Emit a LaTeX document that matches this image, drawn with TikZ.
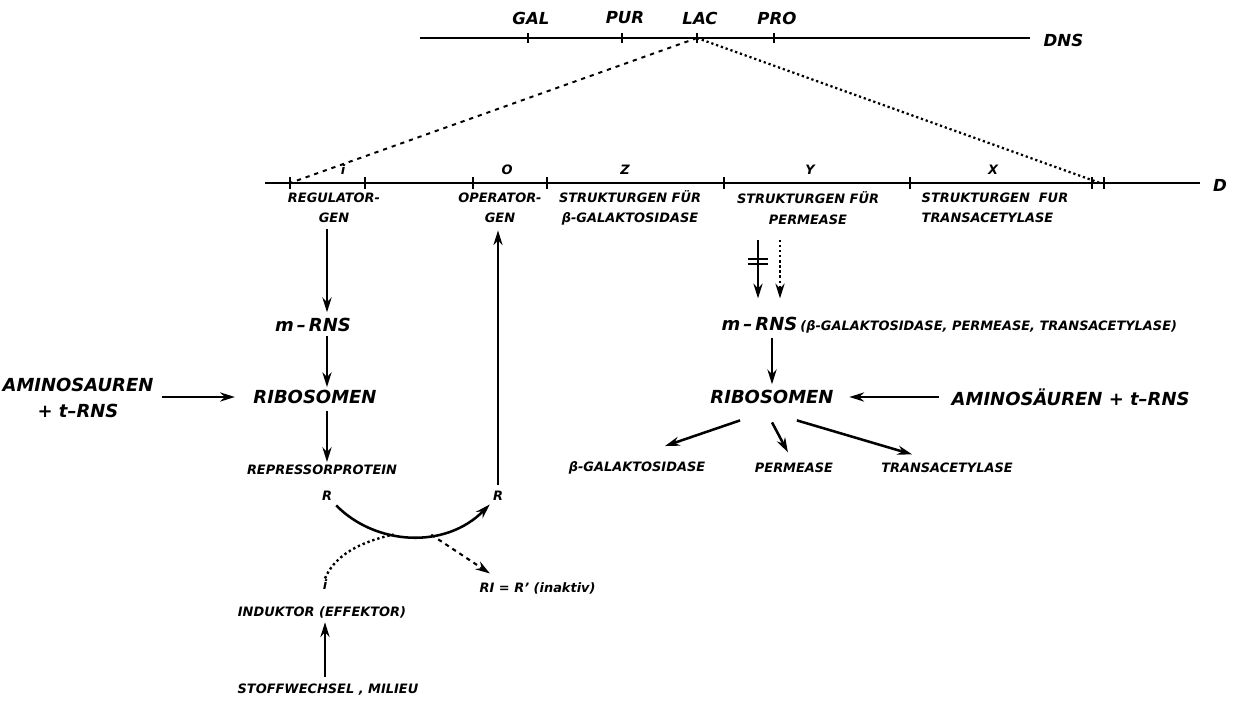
\documentclass[tikz,border=0pt]{standalone}
\usepackage{fontspec}
\setmainfont{DejaVu Sans}
\usepackage{tikz}
\usetikzlibrary{positioning,arrows.meta}
\newcommand{\lbig}{\fontsize{12.8}{15}\selectfont\bfseries\itshape}
\newcommand{\lsmall}{\fontsize{9.2}{14.5}\selectfont\bfseries\itshape}

\begin{document}
\begin{tikzpicture}[x=0.025cm, y=-0.025cm,
  every node/.style={inner sep=1pt},
  big/.style={font=\lbig},
  small/.style={font=\lsmall, align=center},
  gene/.style={font=\fontsize{11.8}{13}\selectfont\bfseries\itshape},
  dna/.style={line width=2.1pt},
  tick/.style={line width=1.4pt},
  arr/.style={-{Stealth[length=10.5pt,width=6.5pt]}, line width=1.8pt},
]
\useasboundingbox (0,0) rectangle (1241,702);
% chromosome (DNS)
\draw[dna] (420,38) -- (1030,38);
\node[gene, anchor=west] (dns) at (1042,40) {DNS};
\foreach \x/\n/\t in {528/gal/GAL, 622/pur/PUR, 697/lac/LAC, 774/pro/PRO} {
  \draw[tick] (\x,33) -- (\x,43);
  \coordinate (\n) at (\x,38);
  \node[gene] (\n lab) at (\x+3,18) {\t};
}
% lac operon
\draw[dna] (265,183) -- (1200,183);
\node[gene] (d) at (1220,185) {D};
\foreach \x in {290,365,473,547,724,910,1092,1104}
  \draw[tick] (\x,177) -- (\x,189);
\coordinate (opL) at (290,183);
\coordinate (opR) at (1100,183);
\draw[line width=1.4pt, dash pattern=on 3pt off 3.5pt] (lac) -- (opL);
\draw[line width=1.6pt, dotted] (lac) -- (opR);
\foreach \x/\n/\t in {343/li/i, 507/lo/O, 625/lz/Z, 810/ly/Y, 993/lx/X}
  \node[small] (\n) at (\x,170) {\t};
\node[small] (reg) at (334,208) {REGULATOR-\\GEN};
\node[small] (opg) at (500,208) {OPERATOR-\\GEN};
\node[small] (zg) at (630,208) {STRUKTURGEN FÜR\\β-GALAKTOSIDASE};
\node[small] (yg) at (808,208) {STRUKTURGEN FÜR\\PERMEASE};
\node[small, align=left, anchor=west] (xg) at (920,208) {STRUKTURGEN~~FUR\\TRANSACETYLASE};
% repressor side
\coordinate (colL) at (327,0);
\node[big] (mrnsL) at (313,325) {m\,–\,RNS};
\node[big] (ribL) at (315,397) {RIBOSOMEN};
\node[small] (rep) at (322,470) {REPRESSORPROTEIN};
\node[small] (rL) at (327,496) {R};
\node[small] (rR) at (498,496) {R};
\node[big, align=center] (amL) at (78,398) {AMINOSAUREN\\[4pt]+ t–RNS};
\draw[arr, shorten <=3pt, shorten >=3pt] (reg.south -| colL) -- (mrnsL.north -| colL);
\draw[arr, shorten <=2pt, shorten >=1pt] (mrnsL.south -| colL) -- (ribL.north -| colL);
\draw[arr, shorten <=4pt, shorten >=1pt] (ribL.south -| colL) -- (rep.north -| colL);
\draw[arr, shorten <=5pt, shorten >=12pt] (amL.east |- ribL.west) -- (ribL.west);
\draw[arr, shorten <=3pt, shorten >=4pt] (rR.north) -- (opg.south -| rR.north);
\draw[arr, shorten <=3pt, shorten >=2pt] (rL) .. controls (375,545) and (445,550) .. (rR)
  coordinate[pos=0.4] (mL) coordinate[pos=0.62] (mR);
\node[small] (iL) at (325,585) {i};
\node[small, anchor=west] (inak) at (478,588) {RI = R' (inaktiv)};
\node[small] (ind) at (322,612) {INDUKTOR (EFFEKTOR)};
\node[small] (stoff) at (328,690) {STOFFWECHSEL , MILIEU};
\draw[line width=1.7pt, dotted] (iL.north) .. controls (335,555) and (360,542) .. (mL);
\draw[arr, line width=1.5pt, dash pattern=on 3pt off 3pt] (mR) -- ([shift={(8.5pt,5pt)}]inak.north west);
\draw[arr, shorten <=4pt, shorten >=2pt] (stoff.north -| iL) -- (ind.south -| iL);
% structural genes side
\coordinate (colY) at (758,0);
\coordinate (colYd) at (780,0);
\coordinate (colR) at (772,0);
\node[anchor=west] (mrnsR) at (720,325) {\lbig m\,–\,RNS\,\lsmall(β-GALAKTOSIDASE, PERMEASE, TRANSACETYLASE)};
\draw[arr, shorten <=10pt, shorten >=12pt] (yg.south -| colY) -- (mrnsR.north -| colY);
\draw[arr, line width=1.6pt, dotted, shorten <=10pt, shorten >=12pt] (yg.south -| colYd) -- (mrnsR.north -| colYd);
\draw[line width=1.4pt] (748,259) -- (768,259) (748,264) -- (768,264);
\node[big] (ribR) at (772,397) {RIBOSOMEN};
\node[big, anchor=west] (amR) at (950,397) {AMINOSÄUREN + t–RNS};
\draw[arr, shorten <=2pt, shorten >=3pt] (mrnsR.south -| colR) -- (ribR.north -| colR);
\draw[arr, shorten <=8pt, shorten >=10pt] (amR.west) -- (ribR.east);
\node[small] (galp) at (637,468) {β-GALAKTOSIDASE};
\node[small] (perm) at (794,468) {PERMEASE};
\node[small] (trans) at (947,468) {TRANSACETYLASE};
\draw[arr] ([shift={(-22.7pt,-10.6pt)}]ribR.south) -- ([shift={(19.9pt,9.9pt)}]galp.north);
\draw[arr] ([shift={(0pt,-12pt)}]ribR.south) -- ([shift={(-4.3pt,6.4pt)}]perm.north);
\draw[arr] ([shift={(17.7pt,-10.6pt)}]ribR.south) -- ([shift={(-24.8pt,5pt)}]trans.north);
\end{tikzpicture}
\end{document}
